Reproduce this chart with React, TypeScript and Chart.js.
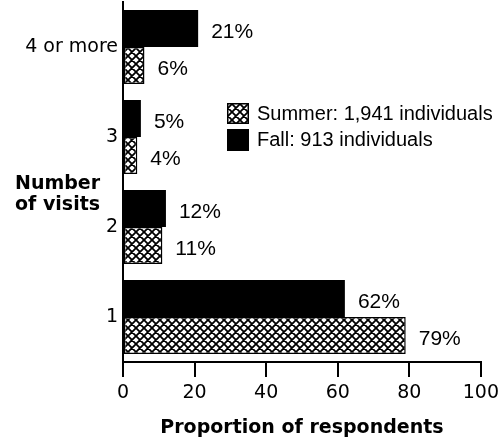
import React, { useEffect, useRef } from 'react';
import { Chart, registerables } from 'chart.js';

Chart.register(...registerables);

const CATEGORIES = ['4 or more', '3', '2', '1'];
const FALL = [21, 5, 12, 62];
const SUMMER = [6, 4, 11, 79];
const X_TICKS = [0, 20, 40, 60, 80, 100];
const FALL_NAME = 'Fall: 913 individuals';
const SUMMER_NAME = 'Summer: 1,941 individuals';
const X_TITLE = 'Proportion of respondents';
const Y_TITLE = ['Number', 'of visits'];

const AXIS_FONT = '"DejaVu Sans", sans-serif';
const LABEL_FONT = '"Liberation Sans", Arial, sans-serif';

function makeHatch(): CanvasPattern {
  const c = document.createElement('canvas');
  c.width = 8;
  c.height = 8;
  const g = c.getContext('2d')!;
  g.fillStyle = '#fff';
  g.fillRect(0, 0, 8, 8);
  g.strokeStyle = '#000';
  g.lineWidth = 1.8;
  g.beginPath();
  for (const k of [-8, 0, 8]) {
    g.moveTo(k, 0);
    g.lineTo(k + 8, 8);
    g.moveTo(k, 8);
    g.lineTo(k + 8, 0);
  }
  g.stroke();
  return g.createPattern(c, 'repeat')!;
}

export default function App() {
  const ref = useRef<HTMLCanvasElement | null>(null);

  useEffect(() => {
    document.body.style.margin = '0';
    const canvas = ref.current!;
    const hatch = makeHatch();

    const valueLabels = {
      id: 'valueLabels',
      afterDatasetsDraw(chart: any) {
        const ctx = chart.ctx;
        ctx.save();
        ctx.font = `21px ${LABEL_FONT}`;
        ctx.fillStyle = '#000';
        ctx.textAlign = 'left';
        ctx.textBaseline = 'middle';
        chart.data.datasets.forEach((ds: any, i: number) => {
          const meta = chart.getDatasetMeta(i);
          meta.data.forEach((el: any, j: number) => {
            ctx.fillText(`${ds.data[j]}%`, el.x + 13, el.y + 4);
          });
        });
        ctx.restore();
      },
    };

    const extras = {
      id: 'extras',
      afterDraw(chart: any) {
        const ctx = chart.ctx;
        ctx.save();
        // legend
        const bx = 227;
        ctx.fillStyle = hatch;
        ctx.fillRect(bx, 103, 22, 21);
        ctx.strokeStyle = '#000';
        ctx.lineWidth = 1.5;
        ctx.strokeRect(bx + 0.75, 103.75, 20.5, 19.5);
        ctx.fillStyle = '#000';
        ctx.fillRect(bx, 129, 22, 22);
        ctx.font = `20px ${LABEL_FONT}`;
        ctx.textAlign = 'left';
        ctx.textBaseline = 'middle';
        ctx.fillText(SUMMER_NAME, 257, 114);
        ctx.fillText(FALL_NAME, 257, 140.5);
        // y title
        ctx.font = `bold 19px ${AXIS_FONT}`;
        ctx.fillText(Y_TITLE[0], 15, 184.5);
        ctx.fillText(Y_TITLE[1], 15, 205.5);
        ctx.restore();
      },
    };

    const chart = new Chart(canvas, {
      type: 'bar',
      data: {
        labels: CATEGORIES,
        datasets: [
          {
            label: FALL_NAME,
            data: FALL,
            backgroundColor: '#000',
            borderColor: '#000',
            borderWidth: 0,
            borderSkipped: false,
            categoryPercentage: 0.82,
            barPercentage: 1,
          },
          {
            label: SUMMER_NAME,
            data: SUMMER,
            backgroundColor: hatch as any,
            borderColor: '#000',
            borderWidth: 1.5,
            borderSkipped: false,
            categoryPercentage: 0.82,
            barPercentage: 1,
          },
        ],
      },
      options: {
        indexAxis: 'y',
        responsive: false,
        animation: false,
        devicePixelRatio: 1,
        layout: { padding: { top: 2, right: 21, bottom: 0, left: 0 } },
        plugins: {
          legend: { display: false },
          tooltip: { enabled: false },
        },
        scales: {
          x: {
            min: 0,
            max: 100,
            afterBuildTicks: (scale: any) => {
              scale.ticks = X_TICKS.map((v) => ({ value: v }));
            },
            afterFit: (scale: any) => {
              scale.height = 79;
            },
            ticks: {
              color: '#000',
              font: { family: AXIS_FONT, size: 19 },
              padding: 5,
              maxRotation: 0,
            },
            grid: {
              drawOnChartArea: false,
              drawTicks: true,
              tickLength: 15,
              color: '#000',
              lineWidth: 2,
            },
            border: { display: true, color: '#000', width: 2 },
            title: {
              display: true,
              text: X_TITLE,
              color: '#000',
              font: { family: AXIS_FONT, size: 19, weight: 'bold' },
              padding: { top: 0, bottom: 2 },
            },
          },
          y: {
            afterFit: (scale: any) => {
              scale.width = 123;
              scale.paddingTop = 0;
              scale.paddingBottom = 0;
            },
            ticks: {
              color: '#000',
              font: { family: AXIS_FONT, size: 19 },
              padding: 5,
            },
            grid: { display: false, drawTicks: false },
            border: { display: true, color: '#000', width: 2 },
          },
        },
      },
      plugins: [valueLabels, extras],
    } as any);

    return () => chart.destroy();
  }, []);

  return (
    <div style={{ width: 504, height: 441 }}>
      <canvas ref={ref} width={504} height={441} style={{ display: 'block', width: 504, height: 441 }} />
    </div>
  );
}
